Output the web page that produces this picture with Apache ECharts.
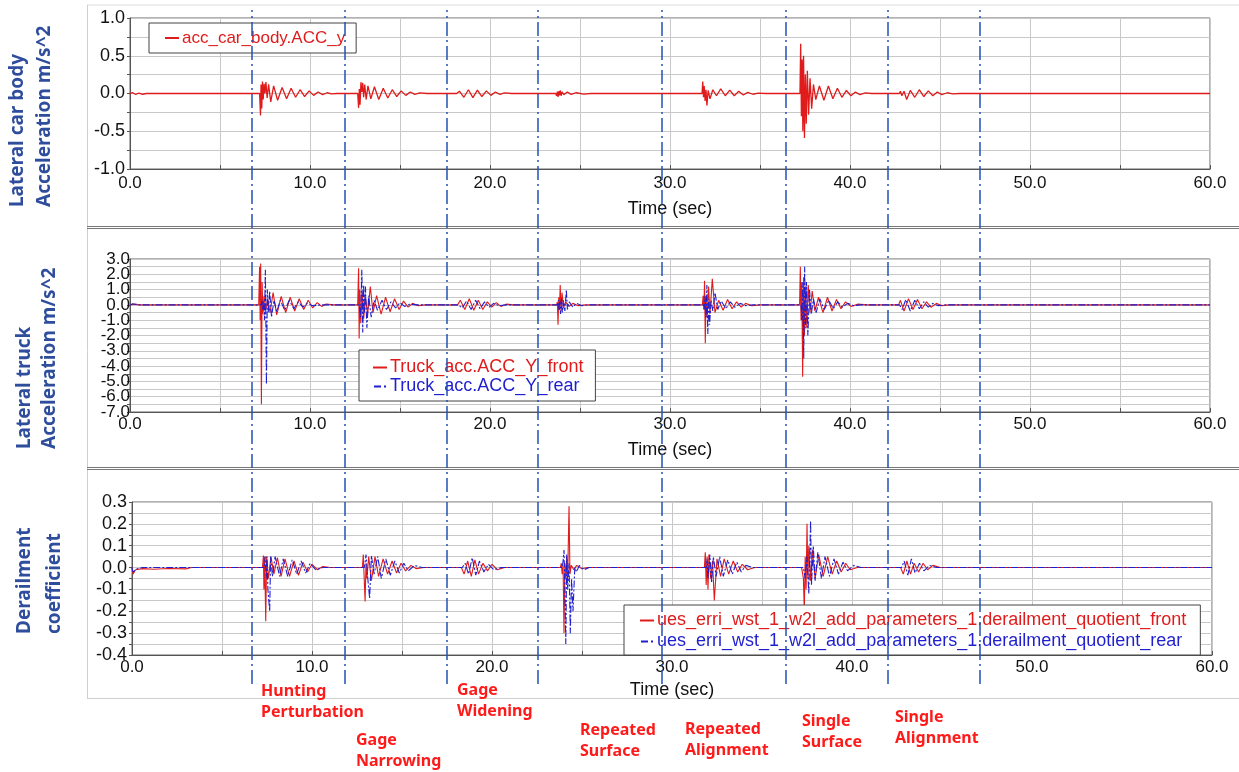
<!DOCTYPE html>
<html>
<head>
<meta charset="utf-8">
<script src="https://cdn.jsdelivr.net/npm/echarts@6.0.0/dist/echarts.min.js"></script>
<style>
html,body{margin:0;padding:0;background:#fff;}
#chart{width:1239px;height:772px;}
</style>
</head>
<body>
<div id="chart"></div>
<script>
// ---------- DATA ----------
const timeBounds = [6.76, 11.91, 17.59, 22.68, 29.56, 36.41, 42.08, 47.22];
const sectionNames = ['Hunting\nPerturbation', 'Gage\nNarrowing', 'Gage\nWidening', 'Repeated\nSurface', 'Repeated\nAlignment', 'Single\nSurface', 'Single\nAlignment'];
const panelTitles = ['Lateral car body\nAcceleration m/s^2', 'Lateral truck\nAcceleration m/s^2', 'Derailment\ncoefficient'];
const seriesNames = ['acc_car_body.ACC_y', 'Truck_acc.ACC_Y_front', 'Truck_acc.ACC_Y_rear',
  'ues_erri_wst_1_w2l_add_parameters_1.derailment_quotient_front',
  'ues_erri_wst_1_w2l_add_parameters_1.derailment_quotient_rear'];
const timeAxisName = 'Time (sec)';

const carBodyAccY = [[0,0],[0.15,0.01],[0.3,-0.01],[0.5,0.005],[0.7,-0.01],[0.9,0],[7.2,0],
[7.25,-0.29],[7.28,0.12],[7.32,-0.2],[7.36,0.16],[7.4,-0.08],[7.45,0.13],[7.5,0.0],[7.55,0.15],[7.62,-0.06],[7.7,0.12],[7.82,-0.11],[7.98,0.1],[8.2,-0.09],[8.45,0.08],[8.7,-0.07],[8.95,0.07],[9.2,-0.05],[9.45,0.05],[9.7,-0.04],[9.95,0.035],[10.2,-0.025],[10.45,0.02],[10.7,-0.015],[10.95,0.01],[11.2,-0.005],[11.5,0],
[12.65,0],[12.7,-0.19],[12.74,0.06],[12.78,-0.15],[12.83,0.15],[12.88,0.02],[12.93,0.14],[12.98,-0.05],[13.04,0.12],[13.12,-0.08],[13.22,0.1],[13.38,-0.07],[13.58,0.09],[13.82,-0.08],[14.07,0.07],[14.32,-0.06],[14.57,0.05],[14.82,-0.04],[15.07,0.035],[15.32,-0.025],[15.57,0.02],[15.82,-0.012],[16.1,0.008],[16.5,0],
[18.15,0],[18.3,0.03],[18.55,-0.05],[18.8,0.05],[19.05,-0.055],[19.3,0.045],[19.55,-0.04],[19.8,0.035],[20.05,-0.025],[20.3,0.02],[20.55,-0.012],[20.8,0.008],[21.2,0],
[23.65,0],[23.7,-0.03],[23.74,0.025],[23.78,-0.045],[23.82,0.03],[23.86,-0.025],[23.9,0.04],[23.95,-0.03],[24.0,0.02],[24.1,-0.015],[24.3,0.02],[24.5,-0.012],[24.8,0.01],[25.2,-0.008],[25.6,0],
[31.78,0],[31.82,0.16],[31.86,-0.05],[31.9,0.1],[31.95,-0.1],[32.0,0.05],[32.05,-0.16],[32.12,0.04],[32.22,-0.07],[32.38,0.05],[32.58,-0.03],[32.82,0.06],[33.07,-0.03],[33.32,0.045],[33.57,-0.03],[33.82,0.03],[34.07,-0.02],[34.32,0.015],[34.6,-0.01],[34.9,0.005],[35.3,0],
[37.22,0],[37.26,0.66],[37.3,-0.3],[37.34,0.45],[37.38,-0.5],[37.42,0.5],[37.47,-0.59],[37.52,0.25],[37.57,-0.4],[37.63,0.3],[37.7,-0.28],[37.78,0.2],[37.87,-0.2],[37.97,0.12],[38.1,-0.08],[38.3,0.1],[38.55,-0.09],[38.8,0.1],[39.05,-0.07],[39.3,0.07],[39.55,-0.05],[39.8,0.04],[40.05,-0.03],[40.3,0.02],[40.55,-0.015],[40.85,0.008],[41.2,0],
[42.75,0],[42.8,0.03],[42.88,-0.03],[43.0,0.03],[43.15,-0.08],[43.35,0.04],[43.6,-0.05],[43.85,0.05],[44.1,-0.04],[44.35,0.035],[44.6,-0.03],[44.85,0.02],[45.1,-0.015],[45.4,0.01],[45.7,-0.005],[46.1,0],
[60,0]];

const truckFrontAccY = [[0,0],[0.1,0.12],[0.3,0.05],[0.5,0],[7.15,0],
[7.2,2.5],[7.23,-1.0],[7.26,2.7],[7.3,-6.5],[7.34,1.5],[7.38,-0.6],[7.45,0.6],[7.55,-0.3],[7.65,0.4],[7.78,-0.5],[7.95,0.8],[8.15,-0.65],[8.4,0.55],[8.65,-0.5],[8.9,0.5],[9.15,-0.4],[9.4,0.4],[9.65,-0.3],[9.9,0.3],[10.15,-0.2],[10.4,0.15],[10.65,-0.1],[10.9,0.06],[11.3,0],
[12.65,0],[12.7,2.4],[12.73,-2.2],[12.77,1.0],[12.82,-1.2],[12.9,0.8],[12.98,-0.9],[13.08,0.5],[13.2,-0.6],[13.35,1.2],[13.5,-0.5],[13.7,0.6],[13.95,-0.6],[14.2,0.5],[14.45,-0.45],[14.7,0.4],[14.95,-0.3],[15.2,0.25],[15.45,-0.15],[15.7,0.1],[16.0,-0.05],[16.4,0],
[18.2,0],[18.35,0.3],[18.6,-0.3],[18.85,0.4],[19.1,-0.35],[19.35,0.3],[19.6,-0.3],[19.85,0.2],[20.1,-0.15],[20.35,0.15],[20.6,-0.1],[20.9,0.05],[21.3,0],
[23.7,0],[23.74,0.2],[23.78,-1.3],[23.82,0.5],[23.86,-0.3],[23.9,1.3],[23.95,-0.4],[24.0,0.8],[24.08,-0.2],[24.2,0.2],[24.4,-0.1],[24.6,0.1],[24.9,-0.05],[25.3,0],
[31.8,0],[31.84,0.6],[31.88,-0.3],[31.92,1.57],[31.96,-2.5],[32.0,0.5],[32.06,-0.8],[32.14,1.2],[32.22,-0.6],[32.35,1.7],[32.5,-0.5],[32.7,0.3],[32.95,-0.35],[33.2,0.35],[33.45,-0.25],[33.7,0.2],[33.95,-0.15],[34.2,0.1],[34.55,-0.05],[35.0,0],
[37.2,0],[37.24,2.5],[37.28,-1.0],[37.32,1.5],[37.37,-4.7],[37.42,1.8],[37.47,-2.0],[37.53,1.2],[37.6,-1.5],[37.68,1.3],[37.78,-0.5],[37.9,0.9],[38.05,-0.4],[38.25,0.5],[38.5,-0.5],[38.75,0.5],[39.0,-0.4],[39.25,0.35],[39.5,-0.25],[39.75,0.2],[40.05,-0.1],[40.45,0.05],[40.9,0],
[42.7,0],[42.8,0.3],[43.0,-0.4],[43.25,0.4],[43.5,-0.3],[43.75,0.35],[44.0,-0.25],[44.25,0.2],[44.5,-0.15],[44.8,0.1],[45.1,-0.05],[45.5,0],
[60,0]];

const truckRearAccY = [[0,0],[0.15,0.08],[0.4,0],[7.3,0],
[7.34,0.3],[7.38,-0.3],[7.42,0.2],[7.47,-1.0],[7.52,2.3],[7.58,-5.2],[7.63,1.0],[7.68,-0.5],[7.76,0.9],[7.86,-0.8],[8.0,0.3],[8.15,-0.45],[8.35,0.3],[8.6,-0.35],[8.85,0.3],[9.1,-0.25],[9.35,0.2],[9.6,-0.15],[9.85,0.1],[10.15,-0.05],[10.6,0],
[12.75,0],[12.8,-0.8],[12.84,0.5],[12.88,2.3],[12.93,-1.8],[12.98,1.3],[13.03,-0.5],[13.08,1.2],[13.16,-1.5],[13.26,0.6],[13.4,-0.8],[13.56,0.3],[13.75,-0.35],[14.0,0.3],[14.25,-0.3],[14.5,0.2],[14.75,-0.2],[15.0,0.15],[15.25,-0.1],[15.55,0.05],[16.0,0],
[18.25,0],[18.45,-0.2],[18.7,0.25],[18.95,-0.3],[19.2,0.3],[19.45,-0.25],[19.7,0.2],[19.95,-0.15],[20.2,0.1],[20.5,-0.05],[20.9,0],
[23.75,0],[23.8,0.3],[23.84,-0.4],[23.88,0.2],[23.92,-0.6],[23.97,0.4],[24.02,-0.5],[24.08,0.3],[24.16,-0.4],[24.24,1.0],[24.3,-0.3],[24.4,0.2],[24.6,-0.15],[24.8,0.1],[25.1,-0.05],[25.5,0],
[31.85,0],[31.9,-0.3],[31.95,0.6],[32.0,-0.8],[32.05,1.3],[32.1,-1.9],[32.15,0.4],[32.2,-1.3],[32.28,0.3],[32.38,-0.4],[32.5,0.8],[32.65,-0.3],[32.85,0.25],[33.1,-0.25],[33.35,0.2],[33.6,-0.15],[33.9,0.1],[34.2,-0.05],[34.6,0],
[37.28,0],[37.33,-1.0],[37.38,1.5],[37.43,-3.5],[37.48,2.5],[37.53,-1.5],[37.58,1.5],[37.66,-2.0],[37.75,1.0],[37.85,-0.6],[37.97,0.4],[38.12,-0.5],[38.32,0.4],[38.57,-0.3],[38.82,0.3],[39.07,-0.25],[39.32,0.2],[39.57,-0.15],[39.87,0.1],[40.2,-0.05],[40.6,0],
[42.75,0],[42.9,-0.3],[43.1,0.35],[43.35,-0.4],[43.6,0.3],[43.85,-0.25],[44.1,0.2],[44.35,-0.15],[44.6,0.1],[44.9,-0.05],[45.3,0],
[60,0]];

const derailFront = [[0,0],[0.05,-0.03],[0.2,-0.01],[0.6,-0.005],[1.2,-0.008],[2.0,-0.004],[3.0,-0.006],[3.3,0],[7.25,0],
[7.3,0.055],[7.33,-0.1],[7.37,0.05],[7.43,-0.245],[7.48,0.05],[7.58,-0.05],[7.72,0.05],[7.88,-0.03],[8.08,0.045],[8.28,-0.04],[8.5,0.04],[8.75,-0.04],[9.0,0.03],[9.25,-0.035],[9.5,0.025],[9.75,-0.02],[10.0,0.015],[10.3,-0.01],[10.6,0.005],[11.0,0],
[12.8,0],[12.85,0.06],[12.9,-0.05],[12.95,-0.155],[13.0,0.02],[13.05,-0.05],[13.15,0.05],[13.3,-0.06],[13.5,0.05],[13.7,-0.04],[13.95,0.04],[14.2,-0.03],[14.45,0.03],[14.7,-0.025],[14.95,0.02],[15.2,-0.015],[15.5,0.01],[15.8,-0.005],[16.2,0],
[18.3,0],[18.45,-0.03],[18.65,0.03],[18.85,-0.04],[19.05,0.035],[19.25,-0.03],[19.5,0.02],[19.75,-0.015],[20.0,0.015],[20.3,-0.01],[20.7,0],
[23.8,0],[23.85,0.02],[23.9,-0.03],[23.95,0.01],[24.0,-0.3],[24.05,0.02],[24.1,-0.05],[24.15,0.05],[24.2,-0.06],[24.28,0.28],[24.33,-0.03],[24.4,0.01],[24.55,-0.01],[24.7,0.01],[25.0,-0.005],[25.3,0],
[31.8,0],[31.85,0.07],[31.9,-0.08],[31.95,0.05],[32.0,-0.1],[32.05,0.06],[32.15,-0.05],[32.25,0.03],[32.35,-0.15],[32.5,0.04],[32.7,-0.04],[32.9,0.04],[33.15,-0.03],[33.4,0.03],[33.65,-0.02],[33.9,0.015],[34.2,-0.01],[34.6,0],
[37.2,0],[37.3,-0.05],[37.35,-0.2],[37.4,0.05],[37.45,-0.1],[37.5,0.2],[37.55,-0.05],[37.6,0.1],[37.7,-0.06],[37.8,0.08],[37.95,-0.05],[38.15,0.06],[38.4,-0.04],[38.65,0.05],[38.9,-0.03],[39.15,0.03],[39.4,-0.02],[39.65,0.02],[39.9,-0.01],[40.3,0],
[42.7,0],[42.85,-0.03],[43.05,0.03],[43.25,-0.03],[43.45,0.02],[43.7,-0.02],[43.95,0.02],[44.2,-0.01],[44.5,0.01],[44.9,0],
[60,0]];

const derailRear = [[0,0],[0.05,-0.02],[0.3,-0.005],[0.6,0],[7.35,0],
[7.4,0.05],[7.45,-0.05],[7.5,0.05],[7.55,-0.1],[7.65,-0.2],[7.7,0.05],[7.8,-0.04],[7.95,0.05],[8.2,-0.04],[8.4,0.04],[8.65,-0.04],[8.9,0.035],[9.15,-0.03],[9.4,0.03],[9.65,-0.025],[9.9,0.02],[10.2,-0.01],[10.6,0],
[12.9,0],[12.95,0.02],[13.0,0.06],[13.1,-0.05],[13.2,-0.14],[13.3,0.055],[13.45,-0.03],[13.65,0.05],[13.85,-0.05],[14.1,0.04],[14.35,-0.035],[14.6,0.03],[14.85,-0.025],[15.1,0.02],[15.35,-0.015],[15.7,0.01],[16.1,0],
[18.35,0],[18.5,0.02],[18.7,-0.03],[18.9,0.045],[19.1,-0.035],[19.3,0.03],[19.55,-0.02],[19.8,0.015],[20.1,-0.01],[20.5,0],
[23.9,0],[23.95,0.03],[24.0,0.08],[24.05,-0.1],[24.1,-0.35],[24.15,0.06],[24.2,-0.1],[24.28,0.02],[24.35,-0.3],[24.42,-0.05],[24.5,-0.2],[24.6,0.0],[24.7,-0.02],[24.85,0.01],[25.1,-0.01],[25.4,0],
[31.9,0],[31.95,0.04],[32.0,-0.05],[32.1,0.06],[32.2,-0.07],[32.3,0.05],[32.45,-0.04],[32.65,0.05],[32.85,-0.04],[33.1,0.035],[33.35,-0.03],[33.6,0.025],[33.85,-0.02],[34.1,0.01],[34.5,0],
[37.3,0],[37.4,-0.05],[37.5,0.05],[37.6,-0.12],[37.7,0.215],[37.75,-0.08],[37.85,0.1],[37.95,-0.06],[38.1,0.07],[38.3,-0.05],[38.5,0.05],[38.75,-0.04],[39.0,0.04],[39.25,-0.03],[39.5,0.025],[39.75,-0.015],[40.1,0.01],[40.5,0],
[42.75,0],[42.9,0.03],[43.1,-0.035],[43.3,0.04],[43.5,-0.025],[43.75,0.02],[44.0,-0.015],[44.3,0.01],[44.7,0],
[60,0]];

// ---------- STYLE ----------
const FONT = '"Liberation Sans", Arial, sans-serif';
const RED = '#e01b1b';
const BLUE = '#1f1fd0';
const TITLE_BLUE = '#2e4d9c';
const ANN_RED = '#ff1a1a';
const GRIDC = '#c8c8c8';
const ICON_SOLID = 'path://M0,0H14V2H0Z';
const ICON_DASH = 'path://M0,0H7V2H0Z M10,0H12V2H10Z';

function isMult(v, step){ const r = v/step; return Math.abs(r - Math.round(r)) < 1e-6; }
function fmt1(v){ return Math.abs(v) < 1e-9 ? '0.0' : v.toFixed(1); }

function mkX(gi, margin, nameGap){
  return {
    gridIndex: gi, type: 'value', min: 0, max: 60, interval: 5,
    name: timeAxisName, nameLocation: 'middle', nameGap: nameGap,
    nameTextStyle: {fontSize: 18, color: '#111', fontFamily: FONT},
    axisLine: {show: true, onZero: false, lineStyle: {color: '#555'}},
    axisTick: {show: true, inside: true, length: 4, lineStyle: {color: '#555'}},
    splitLine: {show: true, lineStyle: {color: GRIDC, width: 1}},
    axisLabel: {margin: margin, fontSize: 17, color: '#111', fontFamily: FONT,
      formatter: v => isMult(v, 10) ? fmt1(v) : ''}
  };
}
function mkY(gi, min, max, interval, labelStep, margin, fontSize){
  return {
    gridIndex: gi, type: 'value', min: min, max: max, interval: interval,
    axisLine: {show: true, onZero: false, lineStyle: {color: '#555'}},
    axisTick: {show: true, length: 3, lineStyle: {color: '#555'}},
    splitLine: {show: true, lineStyle: {color: GRIDC, width: 1}},
    axisLabel: {margin: margin, fontSize: fontSize, color: '#111', fontFamily: FONT,
      formatter: v => isMult(v, labelStep) ? fmt1(v) : ''}
  };
}
function legendBox(names, colors, icons, left, top, padding, fontSize, lineHeight){
  return {
    orient: 'vertical', left: left, top: top, padding: padding,
    itemGap: 0, itemWidth: 14, itemHeight: 2,
    backgroundColor: '#fff', borderColor: '#444', borderWidth: 1, borderRadius: 0,
    textStyle: {fontSize: fontSize, fontFamily: FONT, lineHeight: lineHeight, padding: [0,0,0,-2]},
    selectedMode: false,
    data: names.map((n, i) => ({name: n, icon: icons[i], textStyle: {color: colors[i]}}))
  };
}

const annPos = [[261,681],[356,730],[457,680],[580,720],[685,719],[802,711],[895,707]];
const titlePos = [[31.5,207,27],[37.5,449,25],[39.5,634,30]];

const graphic = [
  {type:'line', shape:{x1:87,y1:5,x2:1239,y2:5}, style:{stroke:'#dcdcdc', lineWidth:1}},
  {type:'line', shape:{x1:87.5,y1:5,x2:87.5,y2:698}, style:{stroke:'#cfcfcf', lineWidth:1}},
  {type:'line', shape:{x1:87,y1:226.5,x2:1239,y2:226.5}, style:{stroke:'#777', lineWidth:1}},
  {type:'line', shape:{x1:87,y1:228.5,x2:1239,y2:228.5}, style:{stroke:'#777', lineWidth:1}},
  {type:'line', shape:{x1:87,y1:467.5,x2:1239,y2:467.5}, style:{stroke:'#777', lineWidth:1}},
  {type:'line', shape:{x1:87,y1:469.5,x2:1239,y2:469.5}, style:{stroke:'#777', lineWidth:1}},
  {type:'line', shape:{x1:87,y1:698.5,x2:1239,y2:698.5}, style:{stroke:'#cfcfcf', lineWidth:1}}
];
panelTitles.forEach((t, i) => {
  graphic.push({type:'text', x: titlePos[i][0], y: titlePos[i][1], rotation: Math.PI/2,
    style:{text: t, fill: TITLE_BLUE, font: 'bold 19px "Noto Sans", sans-serif',
      textAlign:'left', textVerticalAlign:'middle', lineHeight: titlePos[i][2]}});
});
sectionNames.forEach((t, i) => {
  graphic.push({type:'text', x: annPos[i][0], y: annPos[i][1], z: 30,
    style:{text: t, fill: ANN_RED, font: 'bold 16px "Noto Sans", sans-serif',
      textAlign:'left', textVerticalAlign:'top', lineHeight: 21}});
});

const lineSeries = (name, data, gi, color, dashed, width) => ({
  name: name, type: 'line', xAxisIndex: gi, yAxisIndex: gi, data: data,
  symbol: 'none', showSymbol: false, animation: false, silent: true,
  lineStyle: {color: color, width: width, type: dashed ? [7,2,2,2] : 'solid'},
  itemStyle: {color: color}
});

const option = {
  animation: false,
  backgroundColor: '#fff',
  textStyle: {fontFamily: FONT},
  grid: [
    {left: 130, right: 29, top: 18, height: 151, show: true, borderColor: '#666', borderWidth: 1},
    {left: 130, right: 29, top: 259, height: 153, show: true, borderColor: '#666', borderWidth: 1},
    {left: 132, right: 27, top: 502, height: 153, show: true, borderColor: '#666', borderWidth: 1},
    {left: 130, right: 29, top: 10, bottom: 88, show: false}
  ],
  xAxis: [mkX(0, 6, 31), mkX(1, 4, 29), mkX(2, 4, 26),
    {gridIndex: 3, type: 'value', min: 0, max: 60, show: false}],
  yAxis: [mkY(0, -1, 1, 0.25, 0.5, 5, 18), mkY(1, -7, 3, 0.5, 1, 0, 17), mkY(2, -0.4, 0.3, 0.05, 0.1, 5, 18),
    {gridIndex: 3, type: 'value', min: 0, max: 1, show: false}],
  legend: [
    legendBox([seriesNames[0]], [RED], [ICON_SOLID], 149, 23, [5,11,5,16], 17, 20),
    legendBox([seriesNames[1], seriesNames[2]], [RED, BLUE], [ICON_SOLID, ICON_DASH], 359, 350, [8,12,5,14], 18, 19),
    legendBox([seriesNames[3], seriesNames[4]], [RED, BLUE], [ICON_SOLID, ICON_DASH], 624, 605, [5,14,3,16], 18, 21)
  ],
  graphic: graphic,
  series: [
    lineSeries(seriesNames[0], carBodyAccY, 0, RED, false, 1.3),
    lineSeries(seriesNames[1], truckFrontAccY, 1, RED, false, 1.1),
    lineSeries(seriesNames[2], truckRearAccY, 1, BLUE, true, 1.1),
    lineSeries(seriesNames[3], derailFront, 2, RED, false, 1.1),
    lineSeries(seriesNames[4], derailRear, 2, BLUE, true, 1.1),
    {
      name: 'sections', type: 'line', xAxisIndex: 3, yAxisIndex: 3, data: [], z: 20, silent: true,
      markLine: {
        z: 20, symbol: ['none','none'], silent: true, animation: false,
        label: {show: false},
        lineStyle: {color: '#2451b3', width: 1.5, type: [14,4,2,4]},
        data: timeBounds.map(t => ({xAxis: t}))
      }
    }
  ]
};

const chart = echarts.init(document.getElementById('chart'), null, {renderer: 'canvas'});
chart.setOption(option);
</script>
</body>
</html>
